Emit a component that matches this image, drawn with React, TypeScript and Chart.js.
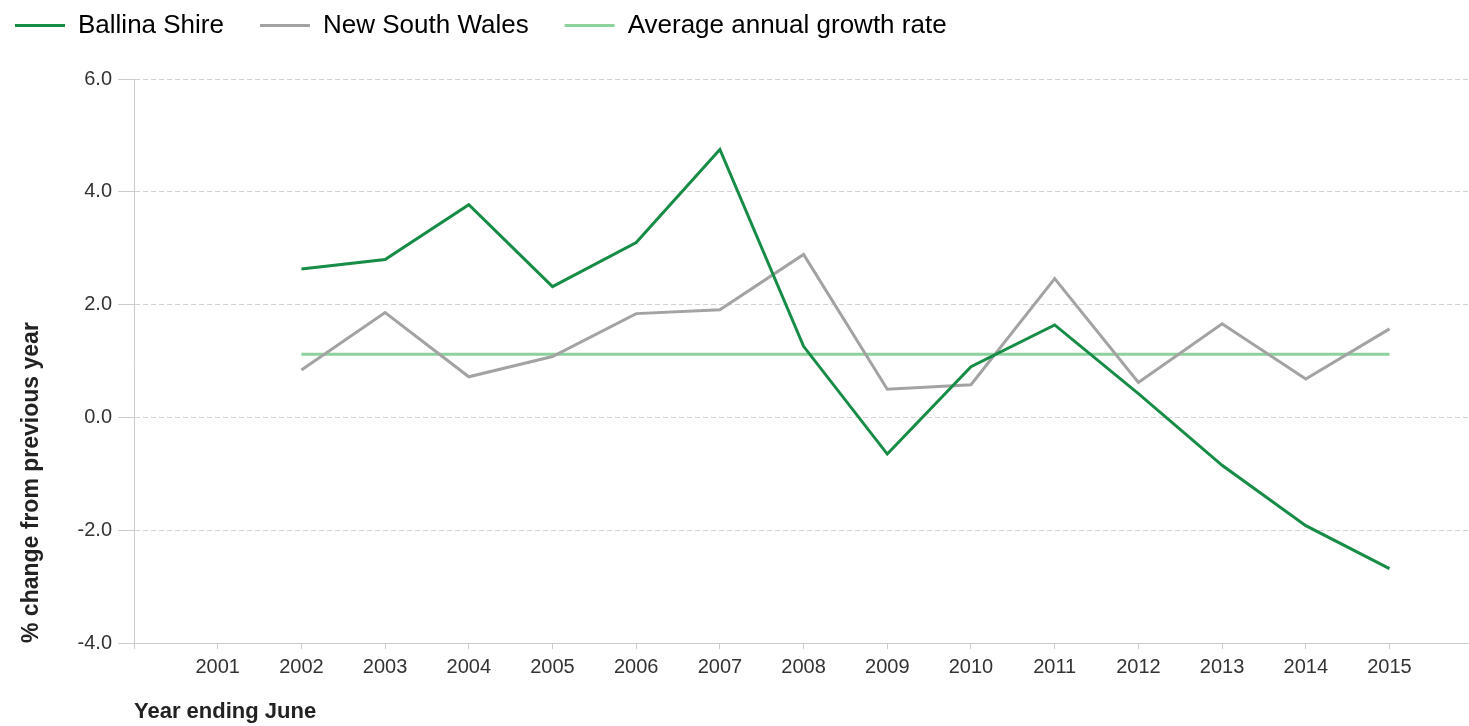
import React, { useEffect, useRef } from "react";
import { Chart, registerables } from "chart.js";

Chart.register(...registerables);

const years = [2002, 2003, 2004, 2005, 2006, 2007, 2008, 2009, 2010, 2011, 2012, 2013, 2014, 2015];
const ballinaShire = [2.63, 2.8, 3.77, 2.32, 3.1, 4.75, 1.26, -0.65, 0.9, 1.64, 0.42, -0.85, -1.92, -2.68];
const newSouthWales = [0.84, 1.86, 0.72, 1.08, 1.84, 1.91, 2.89, 0.5, 0.58, 2.46, 0.62, 1.66, 0.68, 1.57];
const averageGrowth = [1.12, 1.12, 1.12, 1.12, 1.12, 1.12, 1.12, 1.12, 1.12, 1.12, 1.12, 1.12, 1.12, 1.12];
const xTickYears = [2001, 2002, 2003, 2004, 2005, 2006, 2007, 2008, 2009, 2010, 2011, 2012, 2013, 2014, 2015];
const yTickValues = [-4, -2, 0, 2, 4, 6];

const FONT = "Arial, 'Liberation Sans', sans-serif";
const W = 1469;
const H = 726;

const legendShift = {
  id: "legendShift",
  afterLayout(chart: any) {
    const lg = chart.legend;
    if (!lg) return;
    const pad = lg.options.labels.padding;
    lg.left = 15 - pad;
    lg.top = 12.5 - pad;
  },
};

export default function App() {
  const ref = useRef<HTMLCanvasElement | null>(null);

  useEffect(() => {
    if (!ref.current) return;
    const toPts = (vals: number[]) => years.map((y, i) => ({ x: y, y: vals[i] }));
    const chart = new Chart(ref.current, {
      type: "line",
      data: {
        datasets: [
          {
            label: "Ballina Shire",
            data: toPts(ballinaShire),
            borderColor: "#168C46",
            backgroundColor: "#168C46",
            borderWidth: 3,
            pointRadius: 0,
            tension: 0,
          },
          {
            label: "New South Wales",
            data: toPts(newSouthWales),
            borderColor: "#A3A3A3",
            backgroundColor: "#A3A3A3",
            borderWidth: 3,
            pointRadius: 0,
            tension: 0,
          },
          {
            label: "Average annual growth rate",
            data: toPts(averageGrowth),
            borderColor: "#8DD29C",
            backgroundColor: "#8DD29C",
            borderWidth: 3,
            pointRadius: 0,
            tension: 0,
          },
        ],
      },
      options: {
        animation: false,
        responsive: false,
        layout: { padding: { top: 7, left: 0, right: 0, bottom: 0 } },
        plugins: {
          tooltip: { enabled: false },
          legend: {
            position: "top",
            align: "start",
            labels: {
              boxWidth: 50,
              boxHeight: 3,
              padding: 36,
              color: "#333",
              font: { family: FONT, size: 26 },
              generateLabels: (c: any) =>
                c.data.datasets.map((d: any, i: number) => ({
                  text: d.label,
                  fillStyle: d.borderColor,
                  strokeStyle: d.borderColor,
                  lineWidth: 0,
                  datasetIndex: i,
                  hidden: false,
                })),
            },
          },
        },
        scales: {
          x: {
            type: "linear",
            min: 2000,
            max: 2015.95,
            afterBuildTicks: (s: any) => {
              s.ticks = [2000, ...xTickYears].map((v) => ({ value: v }));
            },
            afterFit: (s: any) => {
              s.height = 83;
            },
            ticks: {
              autoSkip: false,
              maxRotation: 0,
              padding: 6,
              color: "#333",
              font: { family: FONT, size: 20 },
              callback: (v: any) => (xTickYears.includes(Number(v)) ? String(v) : ""),
            },
            grid: {
              drawOnChartArea: false,
              drawTicks: true,
              tickLength: 6,
              color: "#cccccc",
            },
            border: { display: true, color: "#cccccc", width: 1 },
            title: {
              display: true,
              text: "Year ending June",
              align: "start",
              color: "#222",
              font: { family: FONT, size: 22, weight: "bold" },
              padding: { top: 0, bottom: 1 },
            },
          },
          y: {
            min: -4,
            max: 6,
            afterBuildTicks: (s: any) => {
              s.ticks = yTickValues.map((v) => ({ value: v }));
            },
            afterFit: (s: any) => {
              s.width = 134;
            },
            ticks: {
              padding: 6,
              color: "#333",
              font: { family: FONT, size: 20 },
              callback: (v: any) => Number(v).toFixed(1),
            },
            grid: {
              color: "#d2d2d2",
              lineWidth: 1,
              drawTicks: true,
              tickLength: 16,
              tickColor: "#cccccc",
            },
            border: { display: true, color: "#cccccc", width: 1, dash: [5, 3] },
            title: {
              display: true,
              text: "% change from previous year",
              align: "start",
              color: "#222",
              font: { family: FONT, size: 23, weight: "bold" },
              padding: { top: 18, bottom: 0 },
            },
          },
        },
      },
      plugins: [legendShift],
    } as any);
    return () => chart.destroy();
  }, []);

  return (
    <div style={{ position: "absolute", left: 0, top: 0, width: W, height: H, background: "#fff" }}>
      <canvas ref={ref} width={W} height={H} style={{ display: "block" }} />
    </div>
  );
}
